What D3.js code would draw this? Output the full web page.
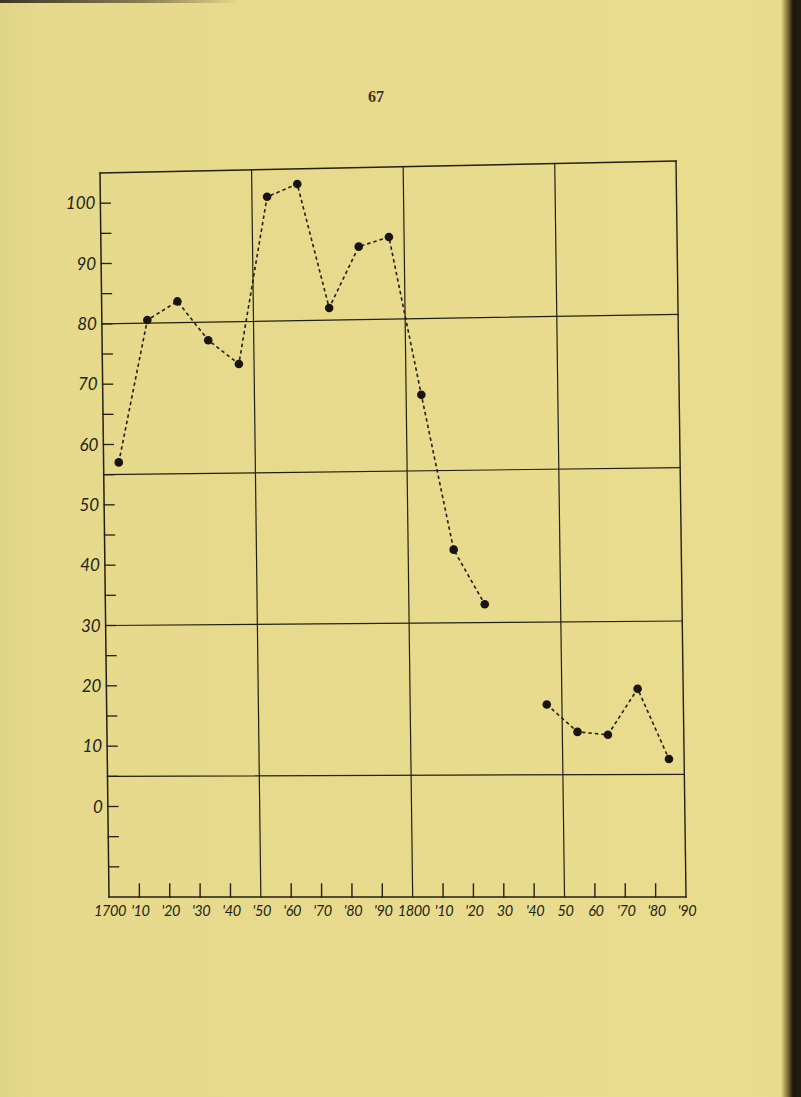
<!DOCTYPE html>
<html>
<head>
<meta charset="utf-8">
<script src="https://cdn.jsdelivr.net/npm/d3@7/dist/d3.min.js"></script>
<style>
  html, body { margin: 0; padding: 0; background: #e8da8c; }
  svg { display: block; }
</style>
</head>
<body>
<script>
// ---- data ----
const years  = [1705, 1715, 1725, 1735, 1745, 1755, 1765, 1775, 1785, 1795, 1805, 1815, 1825, 1835, 1845, 1855, 1865, 1875, 1885];
const values = [57, 80.5, 83.5, 77, 73, 100.5, 102.5, 82, 92, 93.5, 67.5, 42, 33, null, 16.5, 12, 11.5, 19, 7.5];
const yTickValues   = [-10, -5, 0, 5, 10, 15, 20, 25, 30, 35, 40, 45, 50, 55, 60, 65, 70, 75, 80, 85, 90, 95, 100];
const yLabelValues  = [0, 10, 20, 30, 40, 50, 60, 70, 80, 90, 100];
const yLabelTexts   = ["0", "10", "20", "30", "40", "50", "60", "70", "80", "90", "100"];
const yGridValues   = [80, 55, 30, 5];
const xTickYears    = [1700, 1710, 1720, 1730, 1740, 1750, 1760, 1770, 1780, 1790, 1800, 1810, 1820, 1830, 1840, 1850, 1860, 1870, 1880, 1890];
const xTickLabels   = ["1700", "'10", "'20", "'30", "'40", "'50", "'60", "'70", "'80", "'90", "1800", "'10", "'20", "30", "'40", "50", "60", "'70", "'80", "'90"];
const xGridYears    = [1750, 1800, 1850];
const pageNumber    = "67";

const W = 801, H = 1097;
const ink = "#231f14";

const svg = d3.select("body").append("svg").attr("width", W).attr("height", H);

// paper
const defs = svg.append("defs");
const g1 = defs.append("linearGradient").attr("id", "paper").attr("x1", 0).attr("x2", 1).attr("y1", 0).attr("y2", 0);
g1.append("stop").attr("offset", "0").attr("stop-color", "#dfd487");
g1.append("stop").attr("offset", "0.05").attr("stop-color", "#e6d98b");
g1.append("stop").attr("offset", "0.9").attr("stop-color", "#eadc8f");
g1.append("stop").attr("offset", "0.975").attr("stop-color", "#e9db8e");
g1.append("stop").attr("offset", "0.985").attr("stop-color", "#6b5a2a");
g1.append("stop").attr("offset", "0.99").attr("stop-color", "#1c160c");
g1.append("stop").attr("offset", "1").attr("stop-color", "#241c10");
svg.append("rect").attr("width", W).attr("height", H).attr("fill", "url(#paper)");
const g2 = defs.append("linearGradient").attr("id", "topedge").attr("x1", 0).attr("x2", 1).attr("y1", 0).attr("y2", 0);
g2.append("stop").attr("offset", "0").attr("stop-color", "#2a2216").attr("stop-opacity", 0.9);
g2.append("stop").attr("offset", "0.6").attr("stop-color", "#2a2216").attr("stop-opacity", 0.5);
g2.append("stop").attr("offset", "1").attr("stop-color", "#2a2216").attr("stop-opacity", 0);
svg.append("rect").attr("x", 0).attr("y", 0).attr("width", 240).attr("height", 3).attr("fill", "url(#topedge)");

// page number
svg.append("text").attr("x", 376).attr("y", 102).attr("text-anchor", "middle")
  .attr("font-family", "Liberation Serif, DejaVu Serif, serif").attr("font-weight", "bold")
  .attr("font-size", 16).attr("fill", "#3a3426").text(pageNumber);

// ---- scales (normalized) + paper warp ----
const x = d3.scaleLinear().domain([1700, 1890]).range([0, 1]);
const y = d3.scaleLinear().domain([105, -15]).range([0, 1]);
const TL = [100, 173], TR = [676, 161], BL = [109, 897], BR = [686, 897];
function warp(u, v) {
  const tx = TL[0] + (TR[0] - TL[0]) * u, ty = TL[1] + (TR[1] - TL[1]) * u;
  const bx = BL[0] + (BR[0] - BL[0]) * u, by = BL[1] + (BR[1] - BL[1]) * u;
  return [tx + (bx - tx) * v, ty + (by - ty) * v];
}
const P = (yr, val) => warp(x(yr), y(val));

const chart = svg.append("g");

function seg(a, b, w) {
  chart.append("line").attr("x1", a[0]).attr("y1", a[1]).attr("x2", b[0]).attr("y2", b[1])
    .attr("stroke", ink).attr("stroke-width", w || 1.3).attr("stroke-linecap", "square");
}

// frame
const [x0, x1] = x.domain(), [yTop, yBot] = y.domain();
seg(P(x0, yTop), P(x1, yTop), 1.4);
seg(P(x0, yBot), P(x1, yBot), 1.5);
seg(P(x0, yTop), P(x0, yBot), 1.5);
seg(P(x1, yTop), P(x1, yBot), 1.4);
// grid
yGridValues.forEach(v => seg(P(x0, v), P(x1, v), 1.2));
xGridYears.forEach(yr => seg(P(yr, yTop), P(yr, yBot), 1.2));

// y ticks
yTickValues.forEach(v => {
  const p = P(x0, v);
  seg(p, [p[0] + 10, p[1]], 1.3);
});
yLabelValues.forEach((v, i) => {
  const p = P(x0, v);
  chart.append("text").attr("x", p[0] - 5).attr("y", p[1] + 6).attr("text-anchor", "end")
    .attr("font-family", "Lato, 'Liberation Sans', sans-serif").attr("font-style", "italic")
    .attr("font-size", 17).attr("fill", ink).text(yLabelTexts[i]);
});

// x ticks
xTickYears.forEach((yr, i) => {
  const p = P(yr, yBot);
  if (yr !== x0 && yr !== x1 && !xGridYears.includes(yr)) seg(p, [p[0], p[1] - 13], 1.4);
  chart.append("text").attr("x", p[0] + 1).attr("y", p[1] + 19).attr("text-anchor", "middle")
    .attr("font-family", "Lato, 'Liberation Sans', sans-serif").attr("font-style", "italic")
    .attr("font-size", 14.5).attr("letter-spacing", -0.4).attr("fill", ink).text(xTickLabels[i]);
});

// data
const data = years.map((yr, i) => ({ yr, v: values[i] }));
const line = d3.line()
  .defined(d => d.v !== null)
  .x(d => P(d.yr, d.v)[0])
  .y(d => P(d.yr, d.v)[1]);
chart.append("path").datum(data).attr("d", line)
  .attr("fill", "none").attr("stroke", ink).attr("stroke-width", 1.6)
  .attr("stroke-dasharray", "3.5,3");
chart.selectAll("circle.pt").data(data.filter(d => d.v !== null)).enter().append("circle")
  .attr("class", "pt")
  .attr("cx", d => P(d.yr, d.v)[0]).attr("cy", d => P(d.yr, d.v)[1])
  .attr("r", 4.3).attr("fill", "#17140e");
</script>
</body>
</html>
